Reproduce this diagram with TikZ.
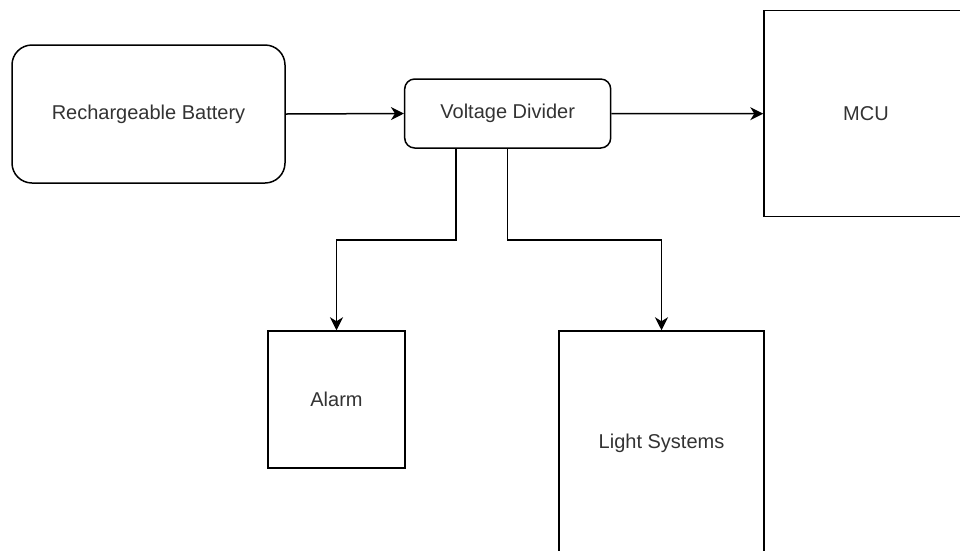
\documentclass[tikz,border=0pt]{standalone}
\usepackage{fontspec}
\setmainfont{Liberation Sans}
\usetikzlibrary{arrows.meta}
\definecolor{txt}{HTML}{333333}
\tikzset{
  blk/.style={draw=black, line width=1.5pt, fill=white, text=txt, font=\fontsize{20}{24}\selectfont, inner sep=0pt},
  arr/.style={draw=black, line width=1.5pt, -{Stealth[length=13pt,width=13pt,inset=4pt]}},
}
\begin{document}
\begin{tikzpicture}[x=1pt,y=-1pt]
\useasboundingbox (0,0) rectangle (960,550);
\clip (0,0) rectangle (960,550);
\node[blk, rounded corners=20pt, minimum width=273pt, minimum height=138pt] (bat) at (148.5,114) {Rechargeable Battery};
\node[blk, rounded corners=10pt, minimum width=206pt, minimum height=69pt] (vd) at (507.7,113.5) {Voltage Divider};
\node[blk, minimum width=204pt, minimum height=206pt] (mcu) at (866,113.7) {MCU};
\node[blk, minimum width=137pt, minimum height=137pt] (alarm) at (336.5,399.5) {Alarm};
\node[blk, minimum width=205pt, minimum height=224pt] (light) at (661.5,443) {Light Systems};
\draw[arr] (bat.east) -- (vd.west);
\draw[arr] (vd.east) -- (mcu.west);
\draw[arr] ([xshift=52pt]vd.south west) -- ++(0,91) -| (alarm.north);
\draw[arr] ([xshift=103.5pt]vd.south west) -- ++(0,91) -| (light.north);
\end{tikzpicture}
\end{document}
